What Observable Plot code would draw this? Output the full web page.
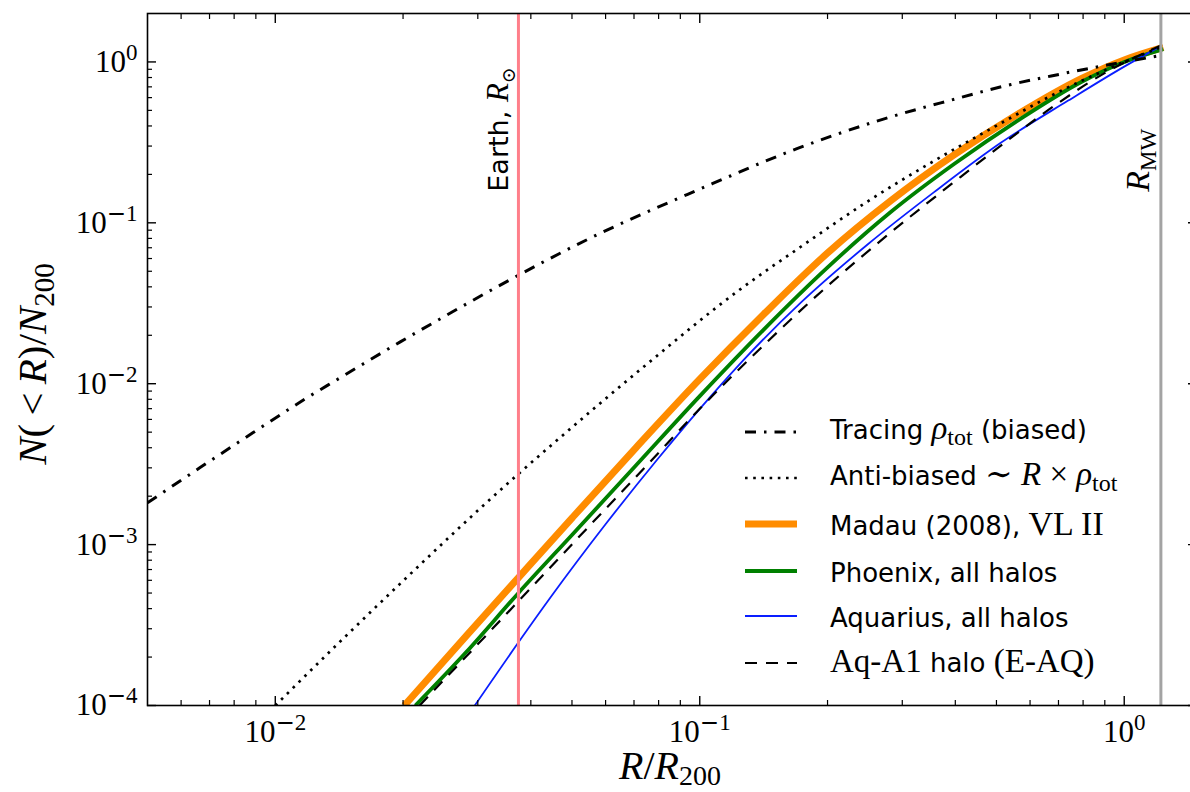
<!DOCTYPE html>
<html>
<head>
<meta charset="utf-8">
<script src="https://cdn.jsdelivr.net/npm/d3@7"></script>
<script src="https://cdn.jsdelivr.net/npm/@observablehq/plot@0.6"></script>
<style>
  html, body { margin: 0; padding: 0; background: #fff; }
  #chart { position: absolute; left: 0; top: 0; width: 1190px; height: 792px; }
</style>
</head>
<body>
<div id="chart"></div>
<script>
// ---------------- data ----------------
// Tracing rho_tot (biased)  — dash-dot
const rTracing = [0.005, 0.00665, 0.00887, 0.01189, 0.01387, 0.0197, 0.0251, 0.0372, 0.0547, 0.1, 0.170, 0.272, 0.385, 0.541, 0.673, 1.0, 1.23];
const nTracing = [0.00182, 0.00301, 0.00497, 0.00819, 0.01047, 0.0182, 0.0263, 0.0469, 0.0794, 0.162, 0.290, 0.443, 0.573, 0.724, 0.818, 1.0, 1.10];
// Anti-biased ~ R x rho_tot — dotted
const rAnti = [0.01, 0.01503, 0.02163, 0.03097, 0.03724, 0.04457, 0.0726, 0.125, 0.173, 0.2489, 0.3565, 0.5129, 0.673, 1.0, 1.216];
const nAnti = [0.0001, 0.000288, 0.000724, 0.001758, 0.002723, 0.004121, 0.0123, 0.0389, 0.071, 0.1361, 0.2427, 0.4169, 0.6166, 1.0, 1.23];
// Madau (2008), VL II — thick orange
const rMadau = [0.02014, 0.02818, 0.03741, 0.05012, 0.07079, 0.1, 0.1413, 0.1995, 0.2818, 0.3981, 0.5623, 0.7943, 1.0, 1.236];
const nMadau = [0.0001, 0.000271, 0.000624, 0.001472, 0.00401, 0.01067, 0.02692, 0.0645, 0.137, 0.2650, 0.4740, 0.7889, 1.028, 1.23];
// Phoenix, all halos — green
const rPhoenix = [0.02138, 0.02818, 0.03741, 0.05012, 0.07079, 0.1, 0.1413, 0.1995, 0.2818, 0.3981, 0.5623, 0.7943, 1.0, 1.236];
const nPhoenix = [0.0001, 0.000215, 0.000501, 0.001156, 0.003112, 0.008375, 0.02163, 0.05248, 0.1167, 0.2328, 0.4335, 0.7534, 1.0, 1.202];
// Aquarius, all halos — thin blue
const rAquarius = [0.02951, 0.03741, 0.04457, 0.05998, 0.07943, 0.1005, 0.125, 0.173, 0.2489, 0.3565, 0.5129, 0.7379, 1.0, 1.222];
const nAquarius = [0.0001, 0.000247, 0.000472, 0.001337, 0.00338, 0.00708, 0.01349, 0.0319, 0.0736, 0.1552, 0.3155, 0.5754, 0.9354, 1.259];
// Aq-A1 halo (E-AQ) — dashed black
const rAqA1 = [0.02188, 0.03639, 0.05445, 0.07413, 0.1005, 0.1413, 0.1963, 0.2773, 0.4055, 0.5408, 0.6839, 0.9162, 1.159, 1.23];
const nAqA1 = [0.0001, 0.000412, 0.001274, 0.003006, 0.00708, 0.0173, 0.03873, 0.08414, 0.1871, 0.3373, 0.5333, 0.877, 1.191, 1.279];

// reference radii
const earthR = 0.0374;
const rMW = 1.22;

// ticks
const xMajor = [0.01, 0.1, 1];
const xTickLabels = ["10^-2", "10^-1", "10^0"];
const xMinor = [0.006, 0.007, 0.008, 0.009, 0.02, 0.03, 0.04, 0.05, 0.06, 0.07, 0.08, 0.09, 0.2, 0.3, 0.4, 0.5, 0.6, 0.7, 0.8, 0.9];
const yMajor = [0.0001, 0.001, 0.01, 0.1, 1];
const yTickLabels = ["10^-4", "10^-3", "10^-2", "10^-1", "10^0"];
const yMinor = [0.0002, 0.0003, 0.0004, 0.0005, 0.0006, 0.0007, 0.0008, 0.0009,
                0.002, 0.003, 0.004, 0.005, 0.006, 0.007, 0.008, 0.009,
                0.02, 0.03, 0.04, 0.05, 0.06, 0.07, 0.08, 0.09,
                0.2, 0.3, 0.4, 0.5, 0.6, 0.7, 0.8, 0.9];

// ---------------- build tables ----------------
const toRows = (rs, ns) => rs.map((r, i) => ({r, n: ns[i]}));
const dTracing = toRows(rTracing, nTracing);
const dAnti = toRows(rAnti, nAnti);
const dMadau = toRows(rMadau, nMadau);
const dPhoenix = toRows(rPhoenix, nPhoenix);
const dAquarius = toRows(rAquarius, nAquarius);
const dAqA1 = toRows(rAqA1, nAqA1);

const SERIF = "'Liberation Serif', 'DejaVu Serif', serif";
const SANS = "'DejaVu Sans', sans-serif";

const styles = {
  tracing: {stroke: "#000", strokeWidth: 3, strokeDasharray: "11,8,2.5,8"},
  anti: {stroke: "#000", strokeWidth: 2.7, strokeDasharray: "2.6,5.6"},
  madau: {stroke: "#ff8c00", strokeWidth: 7, strokeDasharray: null},
  phoenix: {stroke: "#008000", strokeWidth: 3.8, strokeDasharray: null},
  aquarius: {stroke: "#0a1eff", strokeWidth: 1.8, strokeDasharray: null},
  aqa1: {stroke: "#000", strokeWidth: 2.2, strokeDasharray: "12,9"}
};

const lineMark = (data, st) => Plot.line(data, {
  x: "r", y: "n", curve: "monotone-x", clip: true,
  stroke: st.stroke, strokeWidth: st.strokeWidth,
  strokeDasharray: st.strokeDasharray || undefined,
  strokeLinecap: "butt", strokeLinejoin: "round"
});

const blank = () => "";

const plot = Plot.plot({
  width: 1190,
  height: 792,
  marginLeft: 147,
  marginRight: -6,
  marginTop: 13,
  marginBottom: 87,
  style: {background: "#fff", fontFamily: SERIF, fontSize: "31px", color: "#000"},
  x: {type: "log", domain: [0.005, 1.48]},
  y: {type: "log", domain: [0.0001, 2]},
  marks: [
    lineMark(dMadau, styles.madau),
    lineMark(dPhoenix, styles.phoenix),
    lineMark(dAquarius, styles.aquarius),
    lineMark(dAnti, styles.anti),
    lineMark(dTracing, styles.tracing),
    lineMark(dAqA1, styles.aqa1),
    Plot.ruleX([earthR], {stroke: "#ff7f8a", strokeWidth: 3}),
    Plot.ruleX([rMW], {stroke: "#a3a3a3", strokeWidth: 3}),
    // inward ticks, all four sides
    Plot.axisX({anchor: "bottom", ticks: xMajor, tickSize: -9, tickFormat: blank, label: null, strokeWidth: 1.4}),
    Plot.axisX({anchor: "bottom", ticks: xMinor, tickSize: -5, tickFormat: blank, label: null, strokeWidth: 1.2}),
    Plot.axisX({anchor: "top", ticks: xMajor, tickSize: -9, tickFormat: blank, label: null, strokeWidth: 1.4}),
    Plot.axisX({anchor: "top", ticks: xMinor, tickSize: -5, tickFormat: blank, label: null, strokeWidth: 1.2}),
    Plot.axisY({anchor: "left", ticks: yMajor, tickSize: -9, tickFormat: blank, label: null, strokeWidth: 1.4}),
    Plot.axisY({anchor: "left", ticks: yMinor, tickSize: -5, tickFormat: blank, label: null, strokeWidth: 1.2}),
    Plot.axisY({anchor: "right", ticks: yMajor, tickSize: -9, tickFormat: blank, label: null, strokeWidth: 1.4}),
    Plot.axisY({anchor: "right", ticks: yMinor, tickSize: -5, tickFormat: blank, label: null, strokeWidth: 1.2}),
    // tick labels
    Plot.axisX({anchor: "bottom", ticks: xMajor, tickSize: 0, tickPadding: 14, label: null,
      tickFormat: d => xTickLabels[xMajor.indexOf(d)], fontSize: 31, fontFamily: SERIF}),
    Plot.axisY({anchor: "left", ticks: yMajor, tickSize: 0, tickPadding: 10, label: null,
      tickFormat: d => yTickLabels[yMajor.indexOf(d)], fontSize: 31, fontFamily: SERIF}),
    Plot.frame({stroke: "#000", strokeWidth: 1.6})
  ]
});

document.getElementById("chart").appendChild(plot);

const svg = d3.select(plot);
const X = v => plot.scale("x").apply(v);
const Y = v => plot.scale("y").apply(v);

// superscripts on the tick labels
svg.selectAll("text").each(function () {
  const s = this.textContent;
  if (!s || s.indexOf("^") < 0) return;
  const [b, e] = s.split("^");
  const t = d3.select(this);
  t.text(null).attr("font-family", SERIF).attr("font-size", 31).attr("fill", "#000");
  t.append("tspan").text(b);
  if (e.startsWith("-")) {
    t.append("tspan").attr("dy", -12).attr("font-size", 23).attr("font-family", SANS).text("\u2212");
    t.append("tspan").attr("font-size", 23).text(e.slice(1));
  } else {
    t.append("tspan").attr("dy", -12).attr("font-size", 23).text(e);
  }
});

// rich text helper: parts = [{t, f:'sans'|'serif'|'serifI', s:size, sub:px}]
function rich(parent, parts, attrs) {
  const t = parent.append("text").attr("fill", "#000");
  for (const k in attrs) t.attr(k, attrs[k]);
  let off = 0;
  for (const p of parts) {
    const ts = t.append("tspan").text(p.t)
      .attr("font-family", p.f === "sans" ? SANS : SERIF)
      .attr("font-style", p.f === "serifI" ? "italic" : "normal")
      .attr("font-size", p.s);
    const target = p.sub || 0;
    if (target !== off) { ts.attr("dy", target - off); off = target; }
  }
  return t;
}

// axis titles
rich(svg, [
  {t: "R", f: "serifI", s: 40},
  {t: "/", f: "serif", s: 40},
  {t: "R", f: "serifI", s: 40},
  {t: "200", f: "serif", s: 28, sub: 6}
], {x: 670, y: 779, "text-anchor": "middle"});

rich(svg, [
  {t: "N", f: "serifI", s: 41},
  {t: "(", f: "serif", s: 41},
  {t: "\u2009<\u2009", f: "serif", s: 41},
  {t: "R", f: "serifI", s: 41},
  {t: ")/", f: "serif", s: 41},
  {t: "N", f: "serifI", s: 41},
  {t: "200", f: "serif", s: 29, sub: 8}
], {transform: "translate(46,364) rotate(-90)", "text-anchor": "middle"});

// vertical line annotations
rich(svg, [
  {t: "Earth, ", f: "sans", s: 27},
  {t: "R", f: "serifI", s: 31},
  {t: "\u2299", f: "serif", s: 19, sub: 7}
], {transform: `translate(${X(earthR) - 10},${Y(0.155)}) rotate(-90)`, "text-anchor": "start"});

rich(svg, [
  {t: "R", f: "serifI", s: 34},
  {t: "MW", f: "serif", s: 23, sub: 7}
], {transform: `translate(${X(rMW) - 11},${Y(0.155)}) rotate(-90)`, "text-anchor": "start"});

// legend (inside the axes, lower right, no frame)
const legendKeys = ["tracing", "anti", "madau", "phoenix", "aquarius", "aqa1"];
const legendLabels = [
  [{t: "Tracing ", f: "sans", s: 26}, {t: "\u03c1", f: "serifI", s: 33}, {t: "tot", f: "serif", s: 24, sub: 6}, {t: " (biased)", f: "sans", s: 26}],
  [{t: "Anti-biased ", f: "sans", s: 26}, {t: "\u223c ", f: "serif", s: 33}, {t: "R", f: "serifI", s: 33}, {t: " \u00d7 ", f: "serif", s: 33}, {t: "\u03c1", f: "serifI", s: 33}, {t: "tot", f: "serif", s: 24, sub: 6}],
  [{t: "Madau (2008), ", f: "sans", s: 26}, {t: "VL II", f: "serif", s: 34}],
  [{t: "Phoenix, all halos", f: "sans", s: 26}],
  [{t: "Aquarius, all halos", f: "sans", s: 26}],
  [{t: "Aq-A1", f: "serif", s: 33}, {t: " halo ", f: "sans", s: 26}, {t: "(E-AQ)", f: "serif", s: 33}]
];
const legendSampleY = [432, 478, 524, 571, 616, 663];
const legendTextY = [439, 485, 535, 582, 627, 672];
const lg = svg.append("g");
legendKeys.forEach((k, i) => {
  const st = styles[k];
  lg.append("line")
    .attr("x1", 745).attr("x2", 797)
    .attr("y1", legendSampleY[i]).attr("y2", legendSampleY[i])
    .attr("stroke", st.stroke).attr("stroke-width", st.strokeWidth)
    .attr("stroke-dasharray", st.strokeDasharray)
    .attr("stroke-linecap", "butt");
  rich(lg, legendLabels[i], {x: 830, y: legendTextY[i], "text-anchor": "start"});
});
</script>
</body>
</html>
